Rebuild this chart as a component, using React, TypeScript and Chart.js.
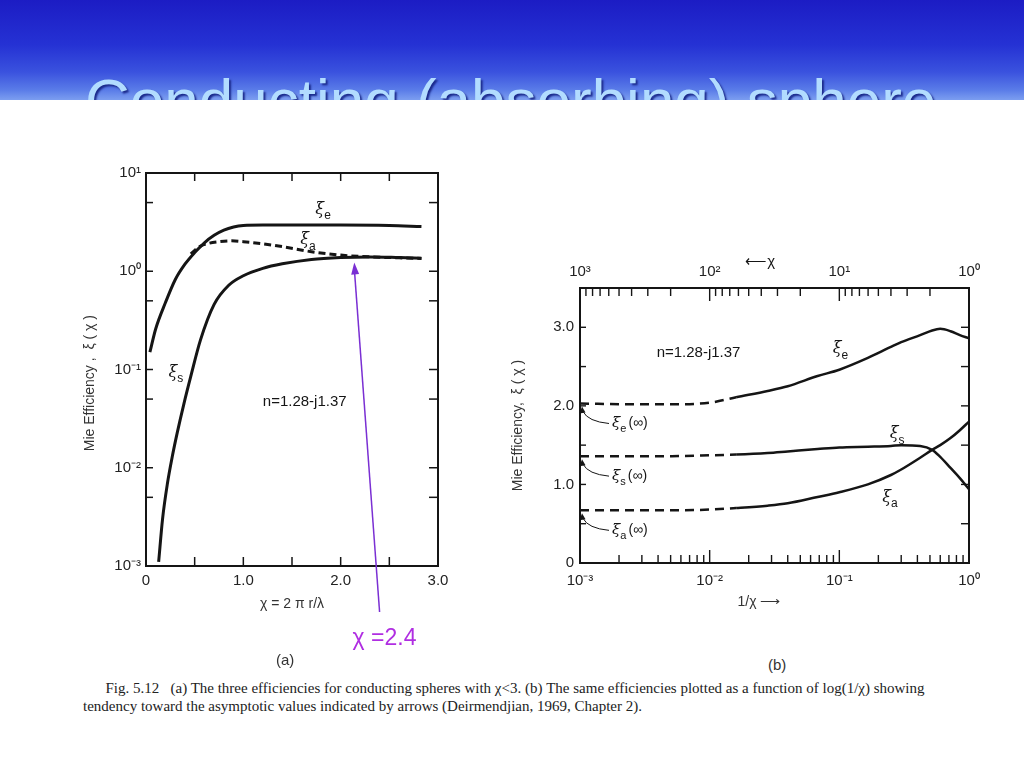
import React, { useEffect, useRef } from "react";
import { Chart, registerables } from "chart.js";
Chart.register(...registerables);

// ---------- Panel (a): efficiencies vs χ = 2πr/λ (log y) ----------
const chiE_a = [0.04, 0.1, 0.2, 0.3, 0.4, 0.5, 0.6, 0.7, 0.8, 0.9, 1.0, 1.2, 1.5, 2.0, 2.5, 2.83];
const xiE_a = [0.15, 0.26, 0.48, 0.82, 1.18, 1.55, 1.95, 2.32, 2.62, 2.82, 2.92, 2.95, 2.95, 2.95, 2.92, 2.85];
const chiA_a = [0.46, 0.55, 0.65, 0.75, 0.88, 1.0, 1.2, 1.4, 1.7, 2.0, 2.3, 2.6, 2.83];
const xiA_a = [1.5, 1.78, 1.93, 2.0, 2.04, 2.0, 1.9, 1.78, 1.58, 1.46, 1.4, 1.37, 1.35];
const chiS_a = [0.13, 0.17, 0.22, 0.27, 0.32, 0.39, 0.46, 0.56, 0.7, 0.85, 1.0, 1.2, 1.4, 1.7, 2.0, 2.3, 2.6, 2.83];
const xiS_a = [0.0011, 0.003, 0.0069, 0.013, 0.0225, 0.045, 0.085, 0.2, 0.46, 0.72, 0.9, 1.07, 1.19, 1.32, 1.38, 1.4, 1.38, 1.36];
const aXTickLabels = [0, 1, 2, 3];
const aXInnerTicks = [0.5, 1, 1.5, 2, 2.5];
const aYTickLabels = [1e-3, 1e-2, 1e-1, 1, 10];
const aYInnerTicks = [5e-3, 1e-2, 5e-2, 1e-1, 5e-1, 1, 5];
const aMarkChi = 2.4;

// ---------- Panel (b): efficiencies vs 1/χ (log x) ----------
const invChiB = [0.001, 0.0025, 0.005, 0.01, 0.016, 0.028, 0.04, 0.068, 0.1, 0.166, 0.25, 0.3, 0.42, 0.52, 0.6, 0.72, 0.85, 1.0];
const xiE_b = [2.03, 2.02, 2.02, 2.04, 2.11, 2.19, 2.25, 2.38, 2.46, 2.61, 2.75, 2.81, 2.9, 2.96, 2.98, 2.95, 2.9, 2.86];
const xiS_b = [1.36, 1.36, 1.36, 1.37, 1.38, 1.4, 1.42, 1.45, 1.47, 1.48, 1.49, 1.5, 1.49, 1.44, 1.35, 1.21, 1.08, 0.94];
const xiA_b = [0.67, 0.67, 0.67, 0.68, 0.7, 0.73, 0.76, 0.84, 0.9, 1.0, 1.12, 1.19, 1.34, 1.44, 1.5, 1.59, 1.69, 1.8];
const bDashedUntil = 0.016;
const bXTickLabels = [1e-3, 1e-2, 1e-1, 1];
const bTopTickLabels = [1000, 100, 10, 1];
const bYTickLabels = [0, 1, 2, 3];
const bYInnerTicks = [0.5, 1, 1.5, 2, 2.5, 3];
const bAsymptotes = [
  { sub: "e", value: 2.03 },
  { sub: "s", value: 1.36 },
  { sub: "a", value: 0.67 },
];

const SUP: Record<string, string> = { "-": "⁻", "0": "⁰", "1": "¹", "2": "²", "3": "³" };
const pow10Label = (v: number) => "10" + String(Math.round(Math.log10(v))).split("").map((c) => SUP[c]).join("");

const SANS = '"Liberation Sans", Arial, sans-serif';
const INK = "#151515";

function xiText(ctx: CanvasRenderingContext2D, x: number, y: number, sub: string, size: number, suffix = "") {
  ctx.textAlign = "left";
  ctx.textBaseline = "middle";
  ctx.font = `italic ${size}px "DejaVu Serif", serif`;
  ctx.fillText("ξ", x, y);
  const w = ctx.measureText("ξ").width;
  ctx.font = `${Math.round(size * 0.72)}px ${SANS}`;
  ctx.fillText(sub, x + w, y + size * 0.38);
  const ws = ctx.measureText(sub).width;
  if (suffix) {
    ctx.font = `${size - 1}px ${SANS}`;
    ctx.fillText(suffix, x + w + ws + 2, y);
  }
}

function seg(ctx: CanvasRenderingContext2D, x1: number, y1: number, x2: number, y2: number) {
  ctx.beginPath();
  ctx.moveTo(x1, y1);
  ctx.lineTo(x2, y2);
  ctx.stroke();
}

const panelAPlugin = {
  id: "panelA",
  afterDraw(chart: any) {
    const { ctx, chartArea: ca, scales } = chart;
    const xs = scales.x, ys = scales.y;
    ctx.save();
    ctx.strokeStyle = INK;
    ctx.lineWidth = 2;
    ctx.strokeRect(ca.left, ca.top, ca.right - ca.left, ca.bottom - ca.top);
    ctx.lineWidth = 1.5;
    for (const v of aYInnerTicks) {
      const p = ys.getPixelForValue(v);
      seg(ctx, ca.left, p, ca.left + 7, p);
      seg(ctx, ca.right, p, ca.right - 9, p);
    }
    for (const v of aXInnerTicks) {
      const p = xs.getPixelForValue(v);
      seg(ctx, p, ca.bottom, p, ca.bottom - 9);
      seg(ctx, p, ca.top, p, ca.top + 8);
    }
    ctx.fillStyle = INK;
    xiText(ctx, xs.getPixelForValue(1.74), ys.getPixelForValue(4.2), "e", 16);
    xiText(ctx, xs.getPixelForValue(1.585), ys.getPixelForValue(2.07), "a", 16);
    xiText(ctx, xs.getPixelForValue(0.23), ys.getPixelForValue(0.093), "s", 16);
    ctx.font = `15px ${SANS}`;
    ctx.textBaseline = "middle";
    ctx.fillText("n=1.28-j1.37", xs.getPixelForValue(1.2), ys.getPixelForValue(0.047));

    // purple marker arrow at χ = 2.4
    const tx = xs.getPixelForValue(aMarkChi);
    const ty = ca.bottom + 46;
    const hx = xs.getPixelForValue(2.14);
    const hy = ys.getPixelForValue(1.23);
    ctx.strokeStyle = "#7a2fd3";
    ctx.fillStyle = "#7a2fd3";
    ctx.lineWidth = 1.5;
    seg(ctx, tx, ty, hx, hy + 6);
    const ang = Math.atan2(hy - ty, hx - tx);
    ctx.beginPath();
    ctx.moveTo(hx, hy);
    ctx.lineTo(hx - 12 * Math.cos(ang) + 4 * Math.sin(ang), hy - 12 * Math.sin(ang) - 4 * Math.cos(ang));
    ctx.lineTo(hx - 12 * Math.cos(ang) - 4 * Math.sin(ang), hy - 12 * Math.sin(ang) + 4 * Math.cos(ang));
    ctx.closePath();
    ctx.fill();
    ctx.fillStyle = "#b02ee2";
    ctx.font = `23px ${SANS}`;
    ctx.textAlign = "left";
    ctx.textBaseline = "alphabetic";
    ctx.fillText("χ =2.4", tx - 27, ca.bottom + 79);
    ctx.restore();
  },
};

const panelBPlugin = {
  id: "panelB",
  afterDraw(chart: any) {
    const { ctx, chartArea: ca, scales } = chart;
    const xs = scales.x, ys = scales.y, x2 = scales.x2;
    ctx.save();
    ctx.strokeStyle = INK;
    ctx.lineWidth = 2;
    ctx.strokeRect(ca.left, ca.top, ca.right - ca.left, ca.bottom - ca.top);
    ctx.lineWidth = 1.4;
    for (const v of bYInnerTicks) {
      const p = ys.getPixelForValue(v);
      seg(ctx, ca.left, p, ca.left + 6, p);
      seg(ctx, ca.right, p, ca.right - 8, p);
    }
    for (let e = -3; e < 0; e++) {
      for (let m = 2; m <= 10; m++) {
        const v = m * Math.pow(10, e);
        if (v >= 1) continue;
        const p = xs.getPixelForValue(v);
        const len = m === 10 ? 13 : 8;
        seg(ctx, p, ca.bottom, p, ca.bottom - len);
      }
    }
    for (let e = 0; e < 3; e++) {
      for (let m = 2; m <= 10; m++) {
        const v = m * Math.pow(10, e);
        if (v >= 1000) continue;
        const p = x2.getPixelForValue(v);
        const len = m === 10 ? 13 : 8;
        seg(ctx, p, ca.top, p, ca.top + len);
      }
    }
    ctx.fillStyle = INK;
    ctx.font = `15px ${SANS}`;
    ctx.textBaseline = "middle";
    ctx.textAlign = "left";
    ctx.fillText("n=1.28-j1.37", xs.getPixelForValue(0.0039), ys.getPixelForValue(2.68));
    xiText(ctx, xs.getPixelForValue(0.089), ys.getPixelForValue(2.72), "e", 16);
    xiText(ctx, xs.getPixelForValue(0.245), ys.getPixelForValue(1.64), "s", 16);
    xiText(ctx, xs.getPixelForValue(0.214), ys.getPixelForValue(0.83), "a", 16);

    // "← χ" above the top axis
    ctx.font = `15px ${SANS}`;
    ctx.textAlign = "center";
    ctx.fillText("⟵χ", xs.getPixelForValue(0.0245), ca.top - 26);

    // asymptote leaders
    ctx.lineWidth = 1;
    for (const a of bAsymptotes) {
      const py = ys.getPixelForValue(a.value);
      const lx = ca.left + 32;
      const ly = py + 20;
      const tipX = ca.left + 2, tipY = py + 3;
      ctx.beginPath();
      ctx.moveTo(lx - 3, ly);
      ctx.quadraticCurveTo(ca.left + 8, ly - 2, tipX + 1, tipY + 5);
      ctx.stroke();
      ctx.beginPath();
      ctx.moveTo(tipX, tipY);
      ctx.lineTo(tipX - 2.5, tipY + 7);
      ctx.lineTo(tipX + 3.5, tipY + 6);
      ctx.closePath();
      ctx.fill();
      xiText(ctx, lx, ly, a.sub, 15, "(∞)");
    }
    ctx.restore();
  },
};

const tickFont = { family: SANS, size: 15 };
const titleFont = { family: SANS, size: 14 };

function makeConfigA(): any {
  const ds = (xs: number[], ys: number[], dash: number[]) => ({
    data: xs.map((x, i) => ({ x, y: ys[i] })),
    borderColor: INK,
    borderWidth: 3,
    borderDash: dash,
    pointRadius: 0,
    fill: false,
    cubicInterpolationMode: "monotone",
  });
  return {
    type: "line",
    data: {
      datasets: [ds(chiE_a, xiE_a, []), ds(chiS_a, xiS_a, []), ds(chiA_a, xiA_a, [7, 4])],
    },
    options: {
      responsive: false,
      animation: false,
      events: [],
      plugins: { legend: { display: false }, tooltip: { enabled: false } },
      layout: { padding: { top: 23, right: 22, bottom: 44, left: 0 } },
      scales: {
        x: {
          type: "linear",
          min: 0,
          max: 3,
          grid: { display: false, drawTicks: false },
          border: { display: false },
          afterBuildTicks: (s: any) => { s.ticks = aXTickLabels.map((v) => ({ value: v })); },
          afterFit: (s: any) => { s.height = 50; },
          ticks: {
            padding: 6, color: "#222", font: tickFont, maxRotation: 0, autoSkip: false,
            callback: (v: any) => (v === 0 ? "0" : Number(v).toFixed(1)),
          },
          title: { display: true, text: "χ = 2 π r/λ", color: "#333", font: titleFont, padding: { top: 0, bottom: 3 } },
        },
        y: {
          type: "logarithmic",
          min: 1e-3,
          max: 10,
          grid: { display: false, drawTicks: false },
          border: { display: false },
          afterBuildTicks: (s: any) => { s.ticks = aYTickLabels.map((v) => ({ value: v })); },
          afterFit: (s: any) => { s.width = 76; },
          ticks: { padding: 5, color: "#222", font: tickFont, autoSkip: false, callback: (v: any) => pow10Label(Number(v)) },
          title: {
            display: true,
            text: "Mie Efficiency ,  ξ ( χ )" + "       ",
            color: "#333",
            font: titleFont,
            padding: { top: 12, bottom: 0 },
          },
        },
      },
    },
    plugins: [panelAPlugin],
  };
}

function makeConfigB(): any {
  const ds = (ys: number[]) => ({
    data: invChiB.map((x, i) => ({ x, y: ys[i] })),
    borderColor: INK,
    borderWidth: 2.5,
    pointRadius: 0,
    fill: false,
    cubicInterpolationMode: "monotone",
    segment: {
      borderDash: (c: any) => (c.p1.parsed.x <= bDashedUntil + 1e-9 ? [9, 6] : undefined),
    },
  });
  return {
    type: "line",
    data: { datasets: [ds(xiE_b), ds(xiS_b), ds(xiA_b)] },
    options: {
      responsive: false,
      animation: false,
      events: [],
      plugins: { legend: { display: false }, tooltip: { enabled: false } },
      layout: { padding: { top: 0, right: 31, bottom: 0, left: 0 } },
      scales: {
        x: {
          type: "logarithmic",
          min: 1e-3,
          max: 1,
          grid: { display: false, drawTicks: false },
          border: { display: false },
          afterBuildTicks: (s: any) => { s.ticks = bXTickLabels.map((v) => ({ value: v })); },
          afterFit: (s: any) => { s.height = 52; },
          ticks: { padding: 9, color: "#222", font: tickFont, maxRotation: 0, autoSkip: false, callback: (v: any) => pow10Label(Number(v)) },
          title: { display: true, text: "1/χ ⟶" + "        ", color: "#333", font: titleFont, padding: { top: 0, bottom: 4 } },
        },
        x2: {
          type: "logarithmic",
          position: "top",
          min: 1,
          max: 1000,
          reverse: true,
          grid: { display: false, drawTicks: false },
          border: { display: false },
          afterBuildTicks: (s: any) => { s.ticks = bTopTickLabels.map((v) => ({ value: v })); },
          afterFit: (s: any) => { s.height = 48; },
          ticks: { padding: 7, color: "#222", font: tickFont, maxRotation: 0, autoSkip: false, callback: (v: any) => pow10Label(Number(v)) },
        },
        y: {
          type: "linear",
          min: 0,
          max: 3.5,
          grid: { display: false, drawTicks: false },
          border: { display: false },
          afterBuildTicks: (s: any) => { s.ticks = bYTickLabels.map((v) => ({ value: v })); },
          afterFit: (s: any) => { s.width = 80; },
          ticks: { padding: 6, color: "#222", font: tickFont, autoSkip: false, callback: (v: any) => (v === 0 ? "0" : Number(v).toFixed(1)) },
          title: { display: true, text: "Mie Efficiency,  ξ ( χ )", color: "#333", font: titleFont, padding: { top: 10, bottom: 0 } },
        },
      },
    },
    plugins: [panelBPlugin],
  };
}

export default function App() {
  const refA = useRef<HTMLCanvasElement>(null);
  const refB = useRef<HTMLCanvasElement>(null);
  useEffect(() => {
    const a = new Chart(refA.current as HTMLCanvasElement, makeConfigA());
    const b = new Chart(refB.current as HTMLCanvasElement, makeConfigB());
    return () => {
      a.destroy();
      b.destroy();
    };
  }, []);

  const abs = (l: number, t: number): React.CSSProperties => ({ position: "absolute", left: l, top: t });

  return (
    <div style={{ position: "absolute", left: 0, top: 0, width: 1024, height: 768, overflow: "hidden", background: "#fff" }}>
      <div
        style={{
          position: "absolute", left: 0, top: 0, width: 1024, height: 100, overflow: "hidden",
          background: "linear-gradient(to bottom, #1c1cc4 0%, #2532d4 45%, #3a52de 72%, #5a7ce8 90%, #7c9ef0 100%)",
        }}
      >
        <div
          style={{
            ...abs(85, 70), fontFamily: SANS, fontSize: 62, lineHeight: 1, whiteSpace: "nowrap",
            color: "#b2dcff", textShadow: "2px 2px 2px #1b2a8c",
          }}
        >
          Conducting (absorbing) sphere
        </div>
      </div>

      <canvas ref={refA} width={390} height={510} style={{ ...abs(70, 150), width: 390, height: 510 }} />
      <canvas ref={refB} width={500} height={375} style={{ ...abs(500, 240), width: 500, height: 375 }} />

      <div style={{ ...abs(276, 651), fontFamily: SANS, fontSize: 15, color: "#333" }}>(a)</div>
      <div style={{ ...abs(768, 656), fontFamily: SANS, fontSize: 15, color: "#333" }}>(b)</div>

      <div
        style={{
          ...abs(83, 679), width: 920, fontFamily: '"Liberation Serif", "Times New Roman", serif', fontSize: 15,
          lineHeight: "18px", color: "#222", whiteSpace: "pre",
        }}
      >
        {"      Fig. 5.12   (a) The three efficiencies for conducting spheres with χ<3. (b) The same efficiencies plotted as a function of log(1/χ) showing\ntendency toward the asymptotic values indicated by arrows (Deirmendjian, 1969, Chapter 2)."}
      </div>
    </div>
  );
}
